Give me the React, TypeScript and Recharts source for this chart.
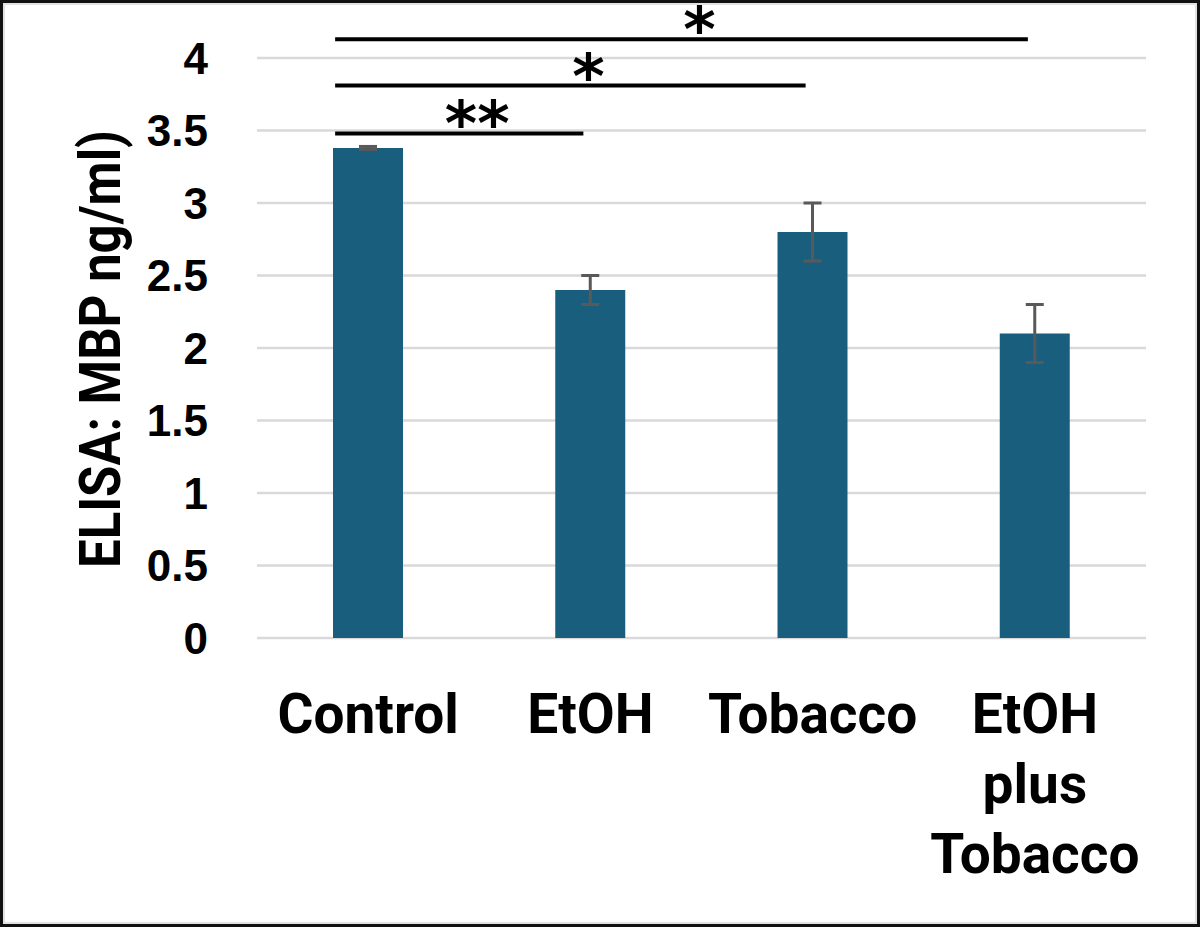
import { BarChart, Bar, XAxis, YAxis, CartesianGrid, ErrorBar, ReferenceLine } from 'recharts';

const categories = ['Control', 'EtOH', 'Tobacco', 'EtOH plus Tobacco'];
const meanValues = [3.38, 2.4, 2.8, 2.1];
const errorValues = [0.01, 0.1, 0.2, 0.2];
const yTicks = [0, 0.5, 1, 1.5, 2, 2.5, 3, 3.5, 4];

// significance brackets, all compared against Control
const sigFrom = ['Control', 'Control', 'Control'];
const sigTo = ['EtOH', 'Tobacco', 'EtOH plus Tobacco'];
const sigLevel = [3.48, 3.81, 4.13];
const sigLabel = ['**', '*', '*'];

const data = categories.map((name, i) => ({ name, mbp: meanValues[i], err: errorValues[i] }));

const BAR_COLOR = '#1a5e7e';

function CategoryTick({ x, y, payload }: any) {
  const words = String(payload.value).split(' ');
  return (
    <text x={x} y={y} textAnchor="middle" fontFamily="Roboto" fontWeight={700} fontSize={55} fill="#000">
      {words.map((w, i) => (
        <tspan key={i} x={x} dy={i === 0 ? 95 : 70}>
          {w}
        </tspan>
      ))}
    </text>
  );
}

function YAxisTitle() {
  return (
    <text
      x={120}
      y={349}
      transform="rotate(-90 120 349)"
      textAnchor="middle"
      fontFamily="Roboto"
      fontWeight={700}
      fontSize={58}
      fill="#000"
      textLength={438}
      lengthAdjust="spacingAndGlyphs"
    >
      ELISA: MBP ng/ml)
    </text>
  );
}

function bracketShape(label: string) {
  return (props: any) => {
    const { x1, x2, y1 } = props;
    const left = x1 - 33;
    const right = x2 - 7;
    return (
      <g>
        <line x1={left} x2={right} y1={y1} y2={y1} stroke="#000" strokeWidth={4} />
        <text
          x={(left + right) / 2 + 18}
          y={y1 + 12}
          textAnchor="middle"
          fontFamily="DejaVu Sans"
          fontWeight={700}
          fontSize={62}
          fill="#000"
        >
          {label}
        </text>
      </g>
    );
  };
}

export default function App() {
  return (
    <div style={{ position: 'absolute', left: 0, top: 0, width: 1200, height: 927, background: '#fff' }}>
      <BarChart width={1200} height={927} data={data} margin={{ top: 58, right: 54, bottom: 0, left: 0 }}>
        <CartesianGrid vertical={false} stroke="#d9d9d9" strokeWidth={2.5} />
        <XAxis
          dataKey="name"
          height={289}
          axisLine={false}
          tickLine={false}
          tickSize={0}
          tickMargin={0}
          interval={0}
          tick={<CategoryTick />}
        />
        <YAxis
          domain={[0, 4]}
          ticks={yTicks}
          width={257}
          axisLine={false}
          tickLine={false}
          tickSize={0}
          tickMargin={49}
          interval={0}
          tick={{ fontSize: 44, fontWeight: 700, fill: '#000', fontFamily: 'Liberation Sans' }}
          label={{ content: YAxisTitle }}
        />
        <Bar dataKey="mbp" fill={BAR_COLOR} barSize={70} isAnimationActive={false}>
          <ErrorBar dataKey="err" width={9} stroke="#595959" strokeWidth={3} direction="y" isAnimationActive={false} />
        </Bar>
        {sigTo.map((to, i) => (
          <ReferenceLine
            key={to}
            segment={[
              { x: sigFrom[i], y: sigLevel[i] },
              { x: to, y: sigLevel[i] },
            ]}
            ifOverflow="visible"
            shape={bracketShape(sigLabel[i])}
          />
        ))}
      </BarChart>
      <div
        style={{
          position: 'absolute',
          left: 0,
          top: 0,
          width: 1200,
          height: 927,
          boxSizing: 'border-box',
          border: '3px solid #111',
          boxShadow: 'inset 0 0 0 2px #e2e2e2',
          pointerEvents: 'none',
        }}
      />
    </div>
  );
}
